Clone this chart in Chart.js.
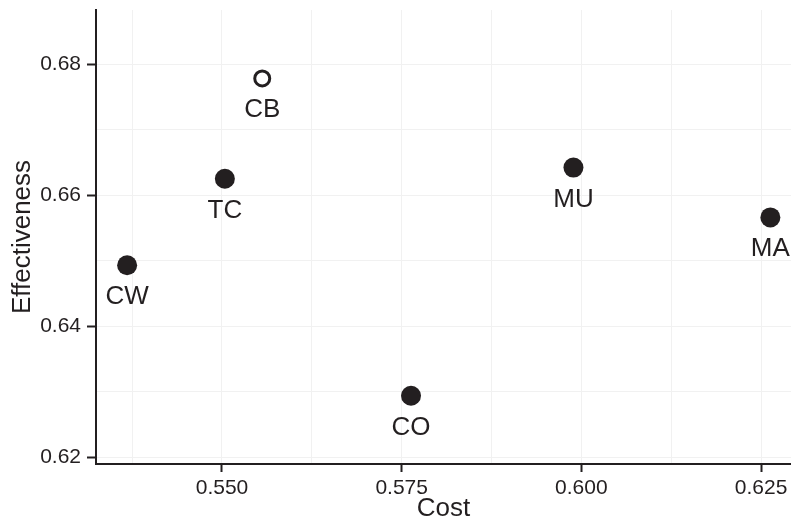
<!DOCTYPE html>
<html>
<head>
<meta charset="utf-8">
<script src="https://cdn.jsdelivr.net/npm/chart.js@4.4.1/dist/chart.umd.min.js"></script>
<style>
  html, body { margin: 0; padding: 0; background: #fff; overflow: hidden; }
  #wrap { position: relative; width: 791px; height: 522px; }
  canvas { display: block; }
</style>
</head>
<body>
<div id="wrap"><canvas id="grafico"></canvas></div>
<script>
const etiquetas = ['CB', 'TC', 'CW', 'CO', 'MU', 'MA'];
const costos = [0.5556, 0.5504, 0.5368, 0.5763, 0.5989, 0.6263];
const efectividad = [0.6778, 0.6625, 0.6493, 0.6294, 0.6642, 0.6566];
const hueco = [true, false, false, false, false, false];

const ticksX = [0.550, 0.575, 0.600, 0.625];
const ticksY = [0.62, 0.64, 0.66, 0.68];
const menoresX = [0.5375, 0.5625, 0.5875, 0.6125];
const menoresY = [0.63, 0.65, 0.67];

const tinta = '#231f20';
const fuente = "'Liberation Sans', Arial, sans-serif";

// labels under each point
const etiquetasPlugin = {
    id: 'etiquetas',
    afterDatasetsDraw(chart) {
        const ctx = chart.ctx;
        const meta = chart.getDatasetMeta(0);
        ctx.save();
        ctx.fillStyle = tinta;
        ctx.font = `26px ${fuente}`;
        ctx.textAlign = 'center';
        ctx.textBaseline = 'alphabetic';
        meta.data.forEach((pt, i) => {
            ctx.fillText(etiquetas[i], pt.x, pt.y + 39);
        });
        ctx.restore();
    }
};

const construirTicks = (mayores, menores) => (scale) => {
    const todos = mayores.map(v => ({ value: v, major: true }))
        .concat(menores.map(v => ({ value: v, major: false })));
    todos.sort((a, b) => a.value - b.value);
    scale.ticks = todos;
};

const sinRelleno = (scale) => {
    scale.paddingTop = 0;
    scale.paddingBottom = 0;
    scale.paddingLeft = 0;
    scale.paddingRight = 0;
};

Chart.defaults.font.family = fuente;
Chart.defaults.color = tinta;

new Chart(document.getElementById('grafico').getContext('2d'), {
    type: 'scatter',
    data: {
        datasets: [{
            data: costos.map((c, i) => ({ x: c, y: efectividad[i] })),
            pointRadius: hueco.map(h => h ? 7.5 : 10),
            pointHoverRadius: hueco.map(h => h ? 7.5 : 10),
            pointBackgroundColor: hueco.map(h => h ? '#ffffff' : tinta),
            pointBorderColor: tinta,
            pointBorderWidth: hueco.map(h => h ? 3 : 0),
            clip: false
        }]
    },
    options: {
        responsive: true,
        maintainAspectRatio: false,
        animation: false,
        layout: { autoPadding: false, padding: { top: 10, right: 0, left: 0, bottom: 0 } },
        plugins: {
            legend: { display: false },
            tooltip: { enabled: false }
        },
        scales: {
            x: {
                type: 'linear',
                min: 0.53247,
                max: 0.62917,
                afterBuildTicks: construirTicks(ticksX, menoresX),
                afterFit: (scale) => { scale.height = 58; sinRelleno(scale); },
                border: { display: true, color: tinta, width: 2 },
                grid: {
                    color: '#f1f1f1',
                    lineWidth: 1,
                    tickLength: 8,
                    tickColor: (c) => c.tick && c.tick.major ? tinta : 'rgba(0,0,0,0)',
                    tickWidth: 2
                },
                ticks: {
                    autoSkip: false,
                    maxRotation: 0,
                    padding: 4,
                    color: tinta,
                    font: { size: 21 },
                    callback: (v) => ticksX.some(t => Math.abs(t - v) < 1e-9) ? v.toFixed(3) : ''
                },
                title: {
                    display: true,
                    text: 'Cost',
                    color: tinta,
                    font: { size: 26, lineHeight: 1 },
                    padding: { top: 0, bottom: 0 }
                }
            },
            y: {
                type: 'linear',
                min: 0.61898,
                max: 0.68824,
                afterBuildTicks: construirTicks(ticksY, menoresY),
                afterFit: (scale) => { scale.width = 96; sinRelleno(scale); },
                border: { display: true, color: tinta, width: 2 },
                grid: {
                    color: '#f1f1f1',
                    lineWidth: 1,
                    tickLength: 9,
                    tickColor: (c) => c.tick && c.tick.major ? tinta : 'rgba(0,0,0,0)',
                    tickWidth: 2
                },
                ticks: {
                    autoSkip: false,
                    padding: 6,
                    color: tinta,
                    font: { size: 21 },
                    callback: (v) => ticksY.some(t => Math.abs(t - v) < 1e-9) ? v.toFixed(2) : ''
                },
                title: {
                    display: true,
                    text: 'Effectiveness',
                    color: tinta,
                    font: { size: 26, lineHeight: 1 },
                    padding: { top: 10, bottom: 0 }
                }
            }
        }
    },
    plugins: [etiquetasPlugin]
});
</script>
</body>
</html>
